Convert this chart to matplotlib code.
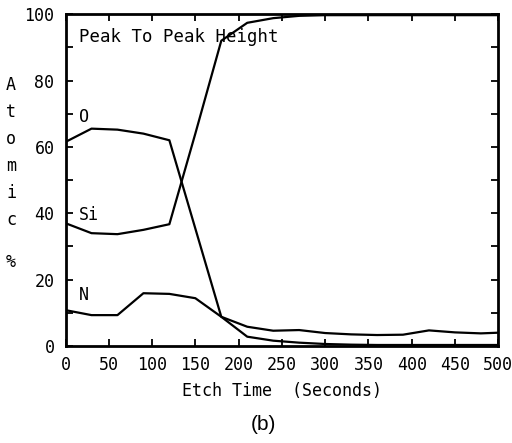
import matplotlib
matplotlib.use('Agg')
import matplotlib.pyplot as plt
import numpy as np

# etch time (s) and atomic % of each element
etch_time = [0, 30, 60, 90, 120, 150, 180, 210, 240, 270, 300, 330, 360, 390, 420, 450, 480, 500]
oxygen = [61.5, 65.5, 65.2, 64.0, 62.0, 35.4, 8.8, 2.8, 1.6, 1.0, 0.6, 0.4, 0.3, 0.3, 0.3, 0.3, 0.3, 0.3]
silicon = [37.0, 34.0, 33.7, 35.0, 36.7, 64.0, 92.0, 97.4, 98.8, 99.5, 99.7, 99.7, 99.7, 99.7, 99.7, 99.7, 99.7, 99.7]
nitrogen = [10.8, 9.3, 9.3, 15.9, 15.7, 14.4, 8.8, 5.8, 4.6, 4.8, 3.9, 3.5, 3.3, 3.4, 4.7, 4.1, 3.8, 4.0]

x_ticks = [0, 50, 100, 150, 200, 250, 300, 350, 400, 450, 500]
y_ticks = [0, 20, 40, 60, 80, 100]

mono = 'DejaVu Sans Mono'

fig = plt.figure(figsize=(5.12, 4.43), dpi=100)
ax = fig.add_axes([0.128, 0.219, 0.845, 0.749])

for vals in (oxygen, silicon, nitrogen):
    ax.plot(etch_time, vals, color='black', linewidth=1.6)

ax.set_xlim(0, 500)
ax.set_ylim(0, 100)
ax.set_xticks(x_ticks)
ax.set_yticks(y_ticks)
ax.set_yticks(np.arange(10, 100, 20), minor=True)

ax.tick_params(axis='both', which='both', direction='in', top=True, right=True,
               width=1.3, length=5, labelsize=12)
ax.tick_params(axis='x', pad=7)
ax.tick_params(axis='y', pad=8)
for lab in ax.get_xticklabels() + ax.get_yticklabels():
    lab.set_fontfamily(mono)

for sp in ax.spines.values():
    sp.set_linewidth(2)

ax.set_xlabel("Etch Time  (Seconds)", fontsize=12, fontfamily=mono, labelpad=6)

# labels written on the plot
ax.text(15, 93, "Peak To Peak Height", fontsize=12.5, fontfamily=mono, va='center')
ax.text(15, 69, "O", fontsize=12, fontfamily=mono, va='center')
ax.text(15, 39.5, "Si", fontsize=12, fontfamily=mono, va='center')
ax.text(15, 15.5, "N", fontsize=12, fontfamily=mono, va='center')

# stacked y label "Atomic %"
ylab = list("Atomic") + ["%"]
ypix = [85, 112, 139, 166, 193, 220, 262]
for ch, py in zip(ylab, ypix):
    fig.text(11 / 512, 1 - py / 443, ch, fontsize=12, fontfamily=mono,
             ha='center', va='center')

fig.text(263 / 512, 1 - 425 / 443, "(b)", fontsize=15, fontfamily='Liberation Sans',
         ha='center', va='center')

plt.savefig('out.png', dpi=100)
